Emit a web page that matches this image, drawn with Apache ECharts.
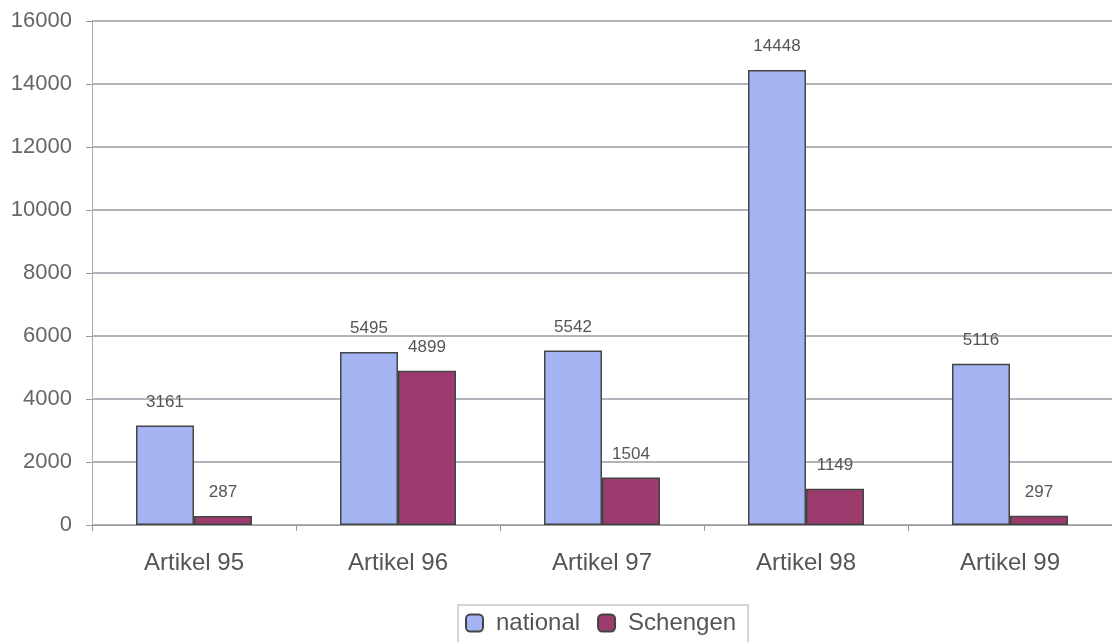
<!DOCTYPE html>
<html><head><meta charset="utf-8">
<script src="https://cdn.jsdelivr.net/npm/echarts@6/dist/echarts.min.js"></script>
<style>html,body{margin:0;padding:0;background:#fff}#c{width:1112px;height:642px}</style>
</head><body><div id="c"></div>
<script>
const categories = ['Artikel 95','Artikel 96','Artikel 97','Artikel 98','Artikel 99'];
const nationalValues = [3161, 5495, 5542, 14448, 5116];
const schengenValues = [287, 4899, 1504, 1149, 297];
const yTicks = [0, 2000, 4000, 6000, 8000, 10000, 12000, 14000, 16000];

const FONT = 'Liberation Sans, Arial, sans-serif';
const chart = echarts.init(document.getElementById('c'));
const labelStyle = {show:true, position:'top', distance:15, color:'#555', fontSize:17, fontFamily:FONT};
chart.setOption({
  animation:false,
  backgroundColor:'#fff',
  grid:{left:92, right:0, top:21, bottom:117},
  legend:{
    top:605, left:458,
    data:['national','Schengen'],
    itemWidth:17, itemHeight:17, itemGap:17,
    borderColor:'#c8c8c8', borderWidth:1.5, padding:[6,12,12,7],
    icon:'roundRect',
    textStyle:{color:'#555', fontSize:24, fontFamily:FONT, padding:[0,0,0,8]}
  },
  xAxis:{
    type:'category', data:categories,
    axisLine:{lineStyle:{color:'#999', width:1}},
    axisTick:{show:true, alignWithLabel:false, length:6, lineStyle:{color:'#999'}},
    axisLabel:{color:'#555', fontSize:24, margin:26, fontFamily:FONT}
  },
  yAxis:{
    type:'value', min:yTicks[0], max:yTicks[yTicks.length-1], interval:2000,
    axisLine:{show:true, lineStyle:{color:'#aaa'}},
    axisTick:{show:true, length:6, lineStyle:{color:'#999'}},
    axisLabel:{color:'#666', fontSize:22, margin:20, fontFamily:FONT, formatter:v=>String(v)},
    splitLine:{lineStyle:{color:'#9a9aa4', width:1.5}}
  },
  series:[
    {name:'national', type:'bar', data:nationalValues, barWidth:58, barGap:'0%',
     itemStyle:{color:'#a4b4f2', borderColor:'#444', borderWidth:1.5}, label:labelStyle},
    {name:'Schengen', type:'bar', data:schengenValues, barWidth:58,
     itemStyle:{color:'#9c3c6e', borderColor:'#444', borderWidth:1.5}, label:labelStyle}
  ]
});
</script></body></html>
